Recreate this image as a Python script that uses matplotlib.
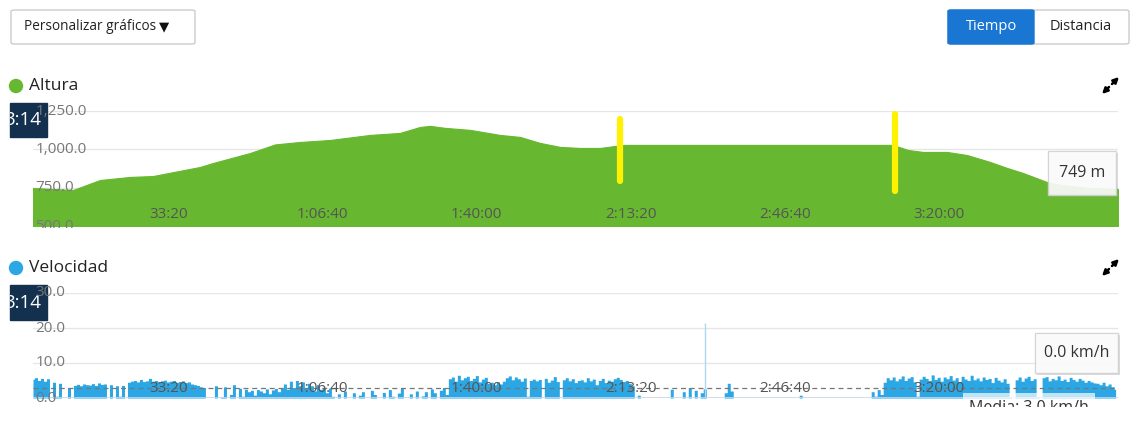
import numpy as np
import matplotlib
matplotlib.use("Agg")
import matplotlib.pyplot as plt
from matplotlib.patches import FancyBboxPatch, Rectangle, Ellipse, FancyArrowPatch
from matplotlib.transforms import Bbox

plt.rcParams["font.family"] = ["Open Sans", "DejaVu Sans"]

W, H = 1144, 436

# --- datos: altura (s, m) ---
alt_t = [246, 765, 1115, 1505, 1803, 2412, 2581, 3061, 3385, 3709, 4099, 4617,
         5006, 5266, 5396, 5590, 5914, 6304, 6563, 6822, 7082, 7341, 7601, 7795,
         7925, 11362, 11401, 11595, 11790, 12101, 12361, 12659, 12879, 13087,
         13398, 13567, 13956, 14319]
alt_m = [748, 735, 800, 820, 826, 885, 911, 976, 1032, 1048, 1061, 1094,
         1107, 1146, 1153, 1140, 1127, 1094, 1081, 1042, 1016, 1009, 1009, 1022,
         1029, 1029, 1029, 996, 983, 983, 963, 918, 879, 846,
         787, 768, 748, 741]

# marcas amarillas (tiempo, altura baja, altura alta)
marca_t = [7860, 11427]
marca_lo = [794, 728]
marca_hi = [1198, 1231]

# --- datos: velocidad (km/h), una muestra cada PASO segundos desde T0 ---
T0 = 246
PASO = 38.9
velocidad = [
    5.4, 5.8, 5.0, 5.6, 4.8, 5.5, 0.0, 4.5, 0.5, 4.2, 0.0, 0.0, 3.0, 0.0,
    3.6, 3.9, 3.5, 4.0, 3.8, 3.7, 4.1, 3.6, 4.3, 3.9, 4.0,
    0.0, 3.8, 0.0, 3.5, 0.5, 3.6, 0.0,
    4.5, 4.8, 5.0, 4.6, 5.3, 4.7, 4.9, 5.6,
    4.8, 5.0, 4.7, 4.9, 5.1, 4.6, 4.8, 5.0, 4.5, 4.7, 4.9, 4.4, 4.6,
    4.0, 3.8, 3.6, 3.2, 3.0,
    0.0, 0.0, 0.0,
    3.5, 0.0, 0.3, 3.2, 0.0, 1.0, 3.8, 0.0,
    2.8, 0.5, 2.5, 1.8, 2.2, 0.8, 2.4, 2.0, 1.5, 2.6, 1.2, 2.3, 2.7, 1.8, 2.9,
    4.0, 2.5, 4.8, 3.0, 5.0, 3.5, 4.6, 2.8, 4.2,
    3.5, 2.0, 3.8, 2.5, 3.0, 1.5, 2.8, 0.5,
    0.0, 1.2, 0.0, 2.0, 0.0, 0.0, 1.5, 0.0, 0.8, 1.8, 0.0, 0.0, 2.2, 1.0, 0.0,
    0.0, 1.6, 0.0, 2.4, 0.5, 0.0, 1.4, 2.8, 0.0, 0.0, 1.2, 0.0, 2.0, 0.0, 0.6,
    1.8, 0.0, 2.6, 1.5, 0.0, 2.2, 3.0, 1.0,
    5.5, 6.0, 4.8, 6.5, 5.2, 5.8, 6.2, 5.0, 5.6, 6.4, 4.6, 5.4, 5.9,
    4.2, 4.5, 3.8, 4.6, 4.0, 4.8,
    5.8, 6.3, 5.2, 6.0, 5.5, 4.8, 5.7, 0.5, 5.0, 5.4, 4.9, 5.3, 0.0, 5.6, 4.5,
    5.1, 6.1, 4.7, 0.0, 5.2, 5.8, 4.9, 5.5, 4.4, 5.0,
    5.2, 4.6, 5.8, 4.9, 5.4, 3.8, 5.0, 5.6, 4.4, 5.1, 4.8, 5.5, 5.9, 5.3, 4.7,
    5.0, 4.2, 3.5,
    0.0, 0.8, 0.0, 0.0, 0.0, 0.0, 0.0, 0.0, 0.0, 0.0, 0.0, 0.0,
    2.5, 0.0, 0.0, 0.0, 1.8, 0.0, 3.0, 0.0, 2.2, 0.0, 1.5, 2.6, 0.0,
    0.0, 0.0, 0.0, 0.0, 0.0, 1.5, 4.2, 2.0, 0.0,
    0.0, 0.0, 0.0, 0.0, 0.0, 0.0, 0.0, 0.0, 0.0, 0.0, 0.0, 0.0, 0.0, 0.0, 0.0,
    0.0, 0.0, 0.0, 0.0, 0.0, 0.0, 0.8, 0.0, 0.0, 0.0, 0.0, 0.0, 0.0, 0.0, 0.0,
    0.0, 0.0, 0.0, 0.0, 0.0, 0.0, 0.0, 0.0,
    0.0, 0.0, 0.0, 0.0, 0.0, 0.0, 0.0, 1.8, 0.5, 2.4, 1.0,
    4.5, 5.8, 5.2, 6.0, 4.9, 5.5, 6.3, 5.0, 5.7, 6.1,
    4.6, 0.5, 5.4, 6.2, 5.6, 5.0, 6.6, 5.3, 5.9, 4.8,
    6.0, 5.5, 6.4, 5.1, 5.8, 4.7, 6.2, 5.4, 5.0, 6.5,
    5.2, 5.7, 4.9, 6.0, 5.3, 5.6, 4.4, 5.9, 5.1, 4.6,
    5.5, 4.2,
    0.3, 0.0,
    5.2, 6.0, 4.8, 5.7, 6.2, 5.0, 5.5, 0.3, 0.0, 5.8, 6.1, 4.9, 5.6, 5.2, 6.3,
    5.0, 5.4, 4.7, 5.9, 5.3, 4.8, 5.6, 5.1, 4.5, 5.0, 4.6, 4.3,
    4.2, 3.8, 4.5, 3.5, 4.0, 3.2, 2.5,
]
# pico aislado (una sola muestra)
pico_t = [8962]
pico_v = [21.5]
media_vel = 3.0

tiempo_ticks = [2000, 4000, 6000, 8000, 10000, 12000]
tiempo_labels = ["33:20", "1:06:40", "1:40:00", "2:13:20", "2:46:40", "3:20:00"]
alt_ticks = [500, 750, 1000, 1250]
alt_labels = ["500.0", "750.0", "1,000.0", "1,250.0"]
vel_ticks = [0, 10, 20, 30]
vel_labels = ["0.0", "10.0", "20.0", "30.0"]

VERDE = "#67b830"
AZUL = "#2aa7e4"
T_MIN, T_MAX = 246, 14320

fig = plt.figure(figsize=(W / 100, H / 100), dpi=100)


def fx(x):
    return x / W


def fy(y):
    return 1 - y / H


def pix_box(x0, y0, x1, y1):
    # bbox en pixeles de pantalla (origen arriba-izquierda en la referencia)
    return Bbox.from_extents(x0, H - y1, x1, H - y0)


def panel(x0, y0, x1, y1):
    ax = fig.add_axes([fx(x0), fy(y1), (x1 - x0) / W, (y1 - y0) / H])
    for s in ax.spines.values():
        s.set_visible(False)
    ax.set_xlim(T_MIN, T_MAX)
    ax.tick_params(length=0, labelleft=False, labelbottom=False)
    ax.set_xticks([])
    return ax


def box(x0, y0, x1, y1, fc, ec, lw=1, r=4, z=5):
    p = FancyBboxPatch((fx(x0), fy(y1)), (x1 - x0) / W, (y1 - y0) / H,
                       boxstyle=f"round,pad=0,rounding_size={r / W}",
                       transform=fig.transFigure, fc=fc, ec=ec, lw=lw, zorder=z)
    fig.add_artist(p)


def titulo(y, texto, color):
    fig.add_artist(Ellipse((fx(16), fy(y)), 13 / W, 13 / H, color=color,
                           transform=fig.transFigure))
    fig.text(fx(29), fy(y), texto, fontsize=12.5, color="#222222",
             va="center", ha="left")


def flecha(x0, y0, x1, y1):
    fig.add_artist(FancyArrowPatch((fx(x0), fy(y0)), (fx(x1), fy(y1)),
                                   transform=fig.transFigure, arrowstyle="-|>",
                                   color="black", lw=1.8, mutation_scale=8,
                                   shrinkA=0, shrinkB=0))


def expandir(y):
    flecha(1112, y - 2, 1119, y - 9)
    flecha(1109, y + 1, 1102, y + 8)


def etiqueta_tiempo(ax, yfrac):
    for t, lab in zip(tiempo_ticks, tiempo_labels):
        ax.text(t, yfrac, lab, transform=ax.get_xaxis_transform(), ha="center",
                va="center", fontsize=11, color="#555555", zorder=6)


def etiquetas_y(ax, ticks, labels, clip):
    # como texto de figura para quedar por encima de la caja de hora
    for v, lab in zip(ticks, labels):
        t = fig.text(0.002, v, lab, transform=ax.get_yaxis_transform(), ha="left",
                     va="center", fontsize=11, color="#777777", zorder=8,
                     clip_on=True)
        t.set_clip_box(clip)


def caja_hora(y0, y1):
    fig.add_artist(Rectangle((fx(10), fy(y1)), 37 / W, (y1 - y0) / H,
                             transform=fig.transFigure, color="#13304f", zorder=7))
    t = fig.text(fx(41), fy((y0 + y1) / 2), "3:14", color="white", fontsize=13.5,
                 ha="right", va="center", zorder=7.5, clip_on=True)
    t.set_clip_box(pix_box(10, y0, 47, y1))


def tooltip(x0, y0, x1, y1, texto):
    fig.add_artist(Rectangle((fx(x0 + 2), fy(y1 + 2)), (x1 - x0) / W, (y1 - y0) / H,
                             transform=fig.transFigure, fc="#999999", alpha=0.35,
                             lw=0, zorder=9))
    fig.add_artist(Rectangle((fx(x0), fy(y1)), (x1 - x0) / W, (y1 - y0) / H,
                             transform=fig.transFigure, fc="white", alpha=0.88,
                             ec="#d0d0d0", lw=1, zorder=9.5))
    fig.text(fx((x0 + x1) / 2), fy((y0 + y1) / 2), texto, fontsize=11.5,
             color="#333333", ha="center", va="center", zorder=10)


# --- cabecera ---
box(11, 10, 195, 44, "white", "#cccccc", r=4)
fig.text(fx(24), fy(27), "Personalizar gráficos", fontsize=9.8, color="#222222",
         va="center", ha="left", zorder=6)
fig.text(fx(159), fy(27), "▼", fontsize=9.5, color="#111111",
         va="center", ha="left", zorder=6)
box(948, 10, 1129, 44, "white", "#cccccc", r=4)
box(948, 10, 1034, 44, "#1976d2", "#1976d2", r=3, z=5.5)
fig.text(fx(991), fy(27), "Tiempo", fontsize=10.5, color="white", ha="center",
         va="center", zorder=6)
fig.text(fx(1081), fy(27), "Distancia", fontsize=10.5, color="#222222",
         ha="center", va="center", zorder=6)

# --- Altura ---
titulo(86, "Altura", VERDE)
expandir(86)
ax1 = panel(33, 111, 1118, 226)
ax1.set_ylim(500, 1250)
ax1.set_yticks(alt_ticks)
ax1.grid(axis="y", color="#e6e6e6", lw=1)
ax1.fill_between(alt_t, alt_m, 500, color=VERDE, lw=0.8, zorder=2)
for t, lo, hi in zip(marca_t, marca_lo, marca_hi):
    ax1.plot([t, t], [lo, hi], color="#fff200", lw=4.5, solid_capstyle="round",
             zorder=4, clip_on=False)
etiqueta_tiempo(ax1, 0.096)
etiquetas_y(ax1, alt_ticks, alt_labels, pix_box(33, 95, 140, 228))
caja_hora(103, 137)
tooltip(1048, 151, 1116, 195, "749 m")

# --- Velocidad ---
titulo(268, "Velocidad", AZUL)
expandir(268)
ax2 = panel(33, 293, 1118, 398)
ax2.set_ylim(0, 30)
ax2.set_yticks(vel_ticks)
ax2.grid(axis="y", color="#e6e6e6", lw=1)
vel_t = T0 + np.arange(len(velocidad)) * PASO
ax2.fill_between(vel_t, velocidad, 0, step="mid", color=AZUL, lw=0, zorder=2)
ax2.vlines(pico_t, 0, pico_v, color="#a9d8f0", lw=1, zorder=2)
ax2.axhline(0, color="#ccd6eb", lw=1.2, zorder=3)
ax2.axhline(media_vel, color="#777777", lw=0.9, ls=(0, (4, 3)), zorder=3)
etiqueta_tiempo(ax2, 0.095)
etiquetas_y(ax2, vel_ticks, vel_labels, pix_box(33, 280, 140, 404))
caja_hora(285, 320)
tooltip(1035, 333, 1118, 373, "0.0 km/h")

# etiqueta de la media, recortada por el borde del grafico
fig.add_artist(Rectangle((fx(963), fy(411)), 132 / W, 18 / H,
                         transform=fig.transFigure, fc="white", alpha=0.7,
                         lw=0, zorder=8))
tm = fig.text(fx(1029), fy(412), f"Media: {media_vel:.1f} km/h", fontsize=11.5,
              color="#333333", ha="center", va="baseline", zorder=8.5, clip_on=True)
tm.set_clip_box(pix_box(960, 390, 1100, 407))

fig.savefig("out.png", dpi=100)
